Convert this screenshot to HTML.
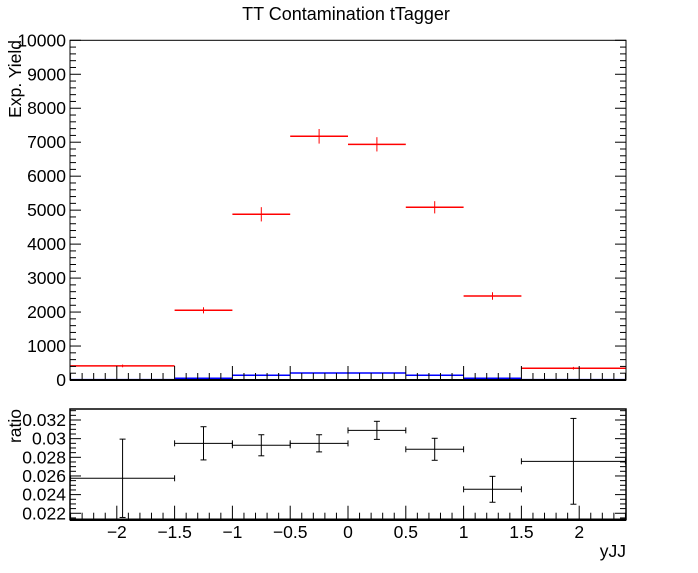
<!DOCTYPE html>
<html><head><meta charset="utf-8"><style>
body{margin:0;background:#fff}
svg{display:block;font-family:"Liberation Sans",sans-serif}
</style></head><body>
<svg id="c" width="698" height="573" viewBox="0 0 698 573" xmlns="http://www.w3.org/2000/svg">
<rect width="698" height="573" fill="#fff"/>
<text x="346" y="20" font-size="18" text-anchor="middle">TT Contamination tTagger</text>
<g id="g"></g>
</svg>
<script>
const binEdges=[-2.4,-1.5,-1,-0.5,0,0.5,1,1.5,2.4];
const binCenters=[-1.95,-1.25,-0.75,-0.25,0.25,0.75,1.25,1.95];
const redVals=[414,2052,4878,7174,6938,5084,2473,346];
const redErrs=[40,90,210,215,210,180,110,40];
const blueVals=[11,50,140,207,207,140,50,10];
const ratioVals=[0.02575,0.0295,0.02929,0.0295,0.03089,0.02886,0.02457,0.02757];
const ratioErrs=[0.0042,0.00178,0.00113,0.00092,0.00097,0.00118,0.00139,0.0046];
const yTicks=[0,1000,2000,3000,4000,5000,6000,7000,8000,9000,10000];
const rTicks=[0.022,0.024,0.026,0.028,0.03,0.032];
const xTicks=[-2,-1.5,-1,-0.5,0,0.5,1,1.5,2];
const xTickLabels=["\u22122","\u22121.5","\u22121","\u22120.5","0","0.5","1","1.5","2"];

const NS="http://www.w3.org/2000/svg";
const g=document.getElementById('g');
const L=70,R=626,T1=40.3,B1=380,T2=409,B2=519.7;
const X=v=>348+(v)*115.6;
const Y=v=>B1-(v/10000)*(B1-T1);
const rMin=0.02131,rMax=0.03318;
const YR=v=>B2-(v-rMin)/(rMax-rMin)*(B2-T2);
function el(tag,attrs,name,inter){const e=document.createElementNS(NS,tag);for(const k in attrs)e.setAttribute(k,attrs[k]);


g.appendChild(e);return e;}
function line(x1,y1,x2,y2,c,w,name){return el('line',{x1,y1,x2,y2,stroke:c,'stroke-width':w||1},name,false);}
function text(x,y,s,anchor,name,extra){const t=el('text',Object.assign({x,y,'font-size':17.5,'text-anchor':anchor||'middle'},extra||{}),name,false);t.textContent=s;return t;}

// blue histogram
for(let i=0;i<blueVals.length;i++){
 line(X(binEdges[i]),Y(blueVals[i]),X(binEdges[i+1]),Y(blueVals[i]),'#0000ff',1.5,'blue-bin');}
// red points
for(let i=0;i<redVals.length;i++){
 line(X(binEdges[i]),Y(redVals[i]),X(binEdges[i+1]),Y(redVals[i]),'#ff0000',1.5,'red-point-xerr');
 line(X(binCenters[i]),Y(redVals[i]+redErrs[i]),X(binCenters[i]),Y(redVals[i]-redErrs[i]),'#ff0000',1,'red-point-yerr');}
// ratio points
for(let i=0;i<ratioVals.length;i++){
 const y=YR(ratioVals[i]),x1=X(binEdges[i]),x2=X(binEdges[i+1]),xc=X(binCenters[i]);
 const yu=YR(ratioVals[i]+ratioErrs[i]),yd=YR(ratioVals[i]-ratioErrs[i]);
 line(x1,y,x2,y,'#000',1,'ratio-point-xerr');
 line(x1,y-3,x1,y+3,'#000',1,'ratio-cap');line(x2,y-3,x2,y+3,'#000',1,'ratio-cap');
 line(xc,yu,xc,yd,'#000',1,'ratio-point-yerr');
 line(xc-3,yu,xc+3,yu,'#000',1,'ratio-cap');line(xc-3,yd,xc+3,yd,'#000',1,'ratio-cap');}

// frames
el('rect',{x:L,y:T1,width:R-L,height:B1-T1,fill:'none',stroke:'#000','stroke-width':1},'top-frame',false);
line(L,B1,R,B1,'#000',2,'top-x-axis');
el('rect',{x:L,y:T2,width:R-L,height:B2-T2,fill:'none',stroke:'#000','stroke-width':1.5},'ratio-frame',false);
line(L,B2,R,B2,'#000',2.5,'ratio-x-axis');

// y ticks top
for(let v=0;v<=10000;v+=200){const y=Y(v);const maj=v%1000===0;const len=maj?11:6;
 line(L,y,L+len,y,'#000',1,'y-tick');line(R,y,R-len,y,'#000',1,'y-tick-right');}
yTicks.forEach(v=>text(66,Y(v)+6,String(v),'end','y-tick-label'));
// x ticks (both pads)
for(let i=-24;i<=24;i++){const v=i/10;const x=X(v);const maj=i%5===0;const len=maj?14:7;
 line(x,B1,x,B1-len,'#000',1,'x-tick');line(x,B2,x,B2-len,'#000',1,'ratio-x-tick');}
xTicks.forEach((v,i)=>text(X(v),538,xTickLabels[i],'middle','x-tick-label'));
// ratio y ticks
for(let k=0;;k++){const v=0.0215+k*0.0005;if(v>rMax)break;const vv=Math.round(v*10000)/10000;
 const maj=Math.abs(vv*1000-Math.round(vv*1000))<1e-6&&Math.round(vv*1000)%2===0;const len=maj?11:6;const y=YR(vv);
 line(L,y,L+len,y,'#000',1,'ratio-y-tick');line(R,y,R-len,y,'#000',1,'ratio-y-tick-right');}
rTicks.forEach(v=>text(66,YR(v)+6,String(v),'end','ratio-y-tick-label'));

// axis titles
text(0,0,'Exp. Yield','end','y-axis-title',{transform:'translate(21,40) rotate(-90)'});
text(0,0,'ratio','end','ratio-y-axis-title',{transform:'translate(21,409) rotate(-90)'});
text(626,557,'yJJ','end','x-axis-title');
</script>
</body></html>
